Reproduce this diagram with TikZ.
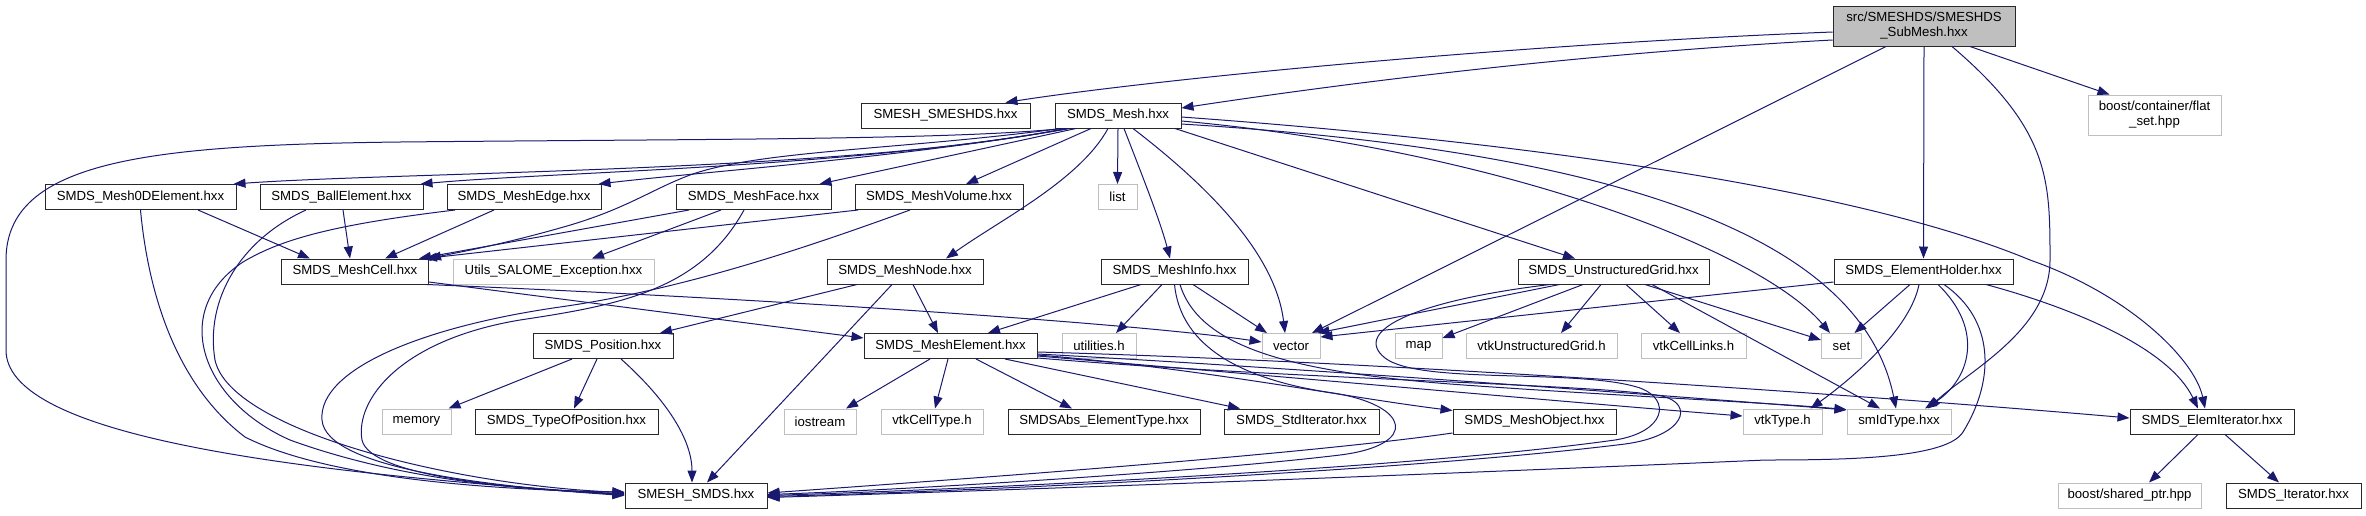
\documentclass[tikz,border=0pt]{standalone}
\usepackage{fontspec}
\setmainfont{Liberation Sans}
\usepackage{tikz}
\usetikzlibrary{arrows.meta}
\definecolor{depblue}{RGB}{25,25,112}
\definecolor{sysgrey}{RGB}{191,191,191}
\definecolor{framegrey}{RGB}{40,40,40}

\begin{document}
\begin{tikzpicture}[
    x=1pt, y=-1pt,
    filebox/.style={rectangle, draw=framegrey, line width=1pt, fill=white, minimum height=25pt, inner sep=0pt, font=\fontsize{13.2}{15}\selectfont},
    sysbox/.style={filebox, draw=sysgrey},
    rootbox/.style={filebox, fill=sysgrey, minimum height=40pt, align=center},
    dep/.style={draw=depblue, line width=1pt, -{Triangle[length=12pt,width=9pt]}}
  ]
  % Canvas
  \fill[white] (0,0) rectangle (2366,515);
  \useasboundingbox (0,0) rectangle (2366,515);

  % Root file
  \node[rootbox, minimum width=182pt] (submesh) at (1924,26) {src/SMESHDS/SMESHDS\\\_SubMesh.hxx};

  % Level 1
  \node[filebox, minimum width=169pt] (smeshds) at (945.5,115.5) {SMESH\_SMESHDS.hxx};
  \node[filebox, minimum width=126pt] (mesh) at (1118,115.5) {SMDS\_Mesh.hxx};
  \node[sysbox, minimum width=133pt, minimum height=40pt, align=center] (flatset) at (2154.5,115) {boost/container/flat\\\_set.hpp};

  % Level 2
  \node[filebox, minimum width=191pt] (zerod) at (140.5,197) {SMDS\_Mesh0DElement.hxx};
  \node[filebox, minimum width=163pt] (ball) at (341.5,197) {SMDS\_BallElement.hxx};
  \node[filebox, minimum width=154pt] (meshedge) at (524,197) {SMDS\_MeshEdge.hxx};
  \node[filebox, minimum width=155pt] (meshface) at (753.5,197) {SMDS\_MeshFace.hxx};
  \node[filebox, minimum width=168pt] (meshvolume) at (939,197) {SMDS\_MeshVolume.hxx};
  \node[sysbox, minimum width=39pt] (stdlist) at (1117.5,197) {list};

  % Level 3
  \node[filebox, minimum width=147pt] (meshcell) at (355,271.5) {SMDS\_MeshCell.hxx};
  \node[sysbox, minimum width=201pt] (salomeexc) at (553.5,271.5) {Utils\_SALOME\_Exception.hxx};
  \node[filebox, minimum width=156pt] (meshnode) at (905,271.5) {SMDS\_MeshNode.hxx};
  \node[filebox, minimum width=147pt] (meshinfo) at (1174.5,271.5) {SMDS\_MeshInfo.hxx};
  \node[filebox, minimum width=191pt] (ugrid) at (1613.5,271.5) {SMDS\_UnstructuredGrid.hxx};
  \node[filebox, minimum width=179pt] (holder) at (1923.5,271.5) {SMDS\_ElementHolder.hxx};

  % Level 4
  \node[filebox, minimum width=140pt] (position) at (603,346) {SMDS\_Position.hxx};
  \node[filebox, minimum width=173pt] (element) at (950.5,346) {SMDS\_MeshElement.hxx};
  \node[sysbox, minimum width=74pt] (utilities) at (1099,346) {utilities.h};
  \node[sysbox, minimum width=58pt] (stdvector) at (1291,346) {vector};
  \node[sysbox, minimum width=47pt] (stdmap) at (1418.5,346) {map};
  \node[sysbox, minimum width=151pt] (vtkugrid) at (1541.5,346) {vtkUnstructuredGrid.h};
  \node[sysbox, minimum width=105pt] (vtklinks) at (1693.5,346) {vtkCellLinks.h};
  \node[sysbox, minimum width=40pt] (stdset) at (1841.5,346) {set};

  % Level 5
  \node[sysbox, minimum width=69pt] (stdmemory) at (416.5,421.5) {memory};
  \node[filebox, minimum width=183pt] (typeofpos) at (566.5,421.5) {SMDS\_TypeOfPosition.hxx};
  \node[sysbox, minimum width=72pt] (stdiostream) at (820,421.5) {iostream};
  \node[sysbox, minimum width=102pt] (vtkcelltype) at (932,421.5) {vtkCellType.h};
  \node[filebox, minimum width=192pt] (abstype) at (1104,421.5) {SMDSAbs\_ElementType.hxx};
  \node[filebox, minimum width=155pt] (stditer) at (1301.5,421.5) {SMDS\_StdIterator.hxx};
  \node[filebox, minimum width=163pt] (meshobject) at (1534.5,421.5) {SMDS\_MeshObject.hxx};
  \node[sysbox, minimum width=79pt] (vtktype) at (1782.5,421.5) {vtkType.h};
  \node[sysbox, minimum width=104pt] (smidtype) at (1899,421.5) {smIdType.hxx};
  \node[filebox, minimum width=164pt] (elemiter) at (2212,421.5) {SMDS\_ElemIterator.hxx};

  % Level 6
  \node[filebox, minimum width=142pt] (smeshsmds) at (696,495.5) {SMESH\_SMDS.hxx};
  \node[sysbox, minimum width=143pt] (sharedptr) at (2129.5,495.5) {boost/shared\_ptr.hpp};
  \node[filebox, minimum width=135pt] (iterator) at (2293.5,495.5) {SMDS\_Iterator.hxx};

  % Includes of the root file
  \draw[dep] ([yshift=-6pt]submesh.west) .. controls (1500,45) and (1150,80) .. ([xshift=60pt]smeshds.north);
  \draw[dep] ([yshift=-14pt]submesh.west) .. controls (1550,55) and (1300,90) .. ([yshift=7.5pt]mesh.east);
  \draw[dep] ([xshift=-38pt]submesh.south) -- ([xshift=21pt]stdvector.north);
  \draw[dep] (submesh.south) -- (holder.north);
  \draw[dep] ([xshift=28pt]submesh.south) .. controls (2050,130) and (2050,180) .. (2050,260) .. controls (2050,330) and (1970,370) .. ([xshift=29pt]smidtype.north);
  \draw[dep] ([xshift=46pt]submesh.south) -- ([xshift=-45pt]flatset.north);

  % Includes of SMDS_Mesh.hxx
  \draw[dep] ([xshift=-55pt]mesh.south) .. controls (950,140) and (700,139) .. (400,142) .. controls (150,145) and (6,160) .. (6,260) -- (6,350) .. controls (6,430) and (250,470) .. ([yshift=1pt]smeshsmds.west);
  \draw[dep] ([xshift=-52pt]mesh.south) .. controls (850,172) and (400,172) .. ([xshift=-3pt]zerod.north east);
  \draw[dep] ([xshift=-50pt]mesh.south) .. controls (850,168) and (550,172) .. ([xshift=-3pt]ball.north east);
  \draw[dep] ([xshift=-48pt]mesh.south) .. controls (900,158) and (700,172) .. ([xshift=-3pt]meshedge.north east);
  \draw[dep] ([xshift=-42pt]mesh.south) -- ([xshift=66pt]meshface.north);
  \draw[dep] ([xshift=-27pt]mesh.south) -- ([xshift=27pt]meshvolume.north);
  \draw[dep] (mesh.south) -- (stdlist.north);
  \draw[dep] ([xshift=-57pt]mesh.south) .. controls (900,150) and (760,150) .. (690,175) .. controls (650,190) and (625,210) .. (560,228) .. controls (500,245) and (460,252) .. (meshcell.north east);
  \draw[dep] ([xshift=-10pt]mesh.south) .. controls (1080,180) and (1000,220) .. ([xshift=41pt]meshnode.north);
  \draw[dep] ([xshift=6pt]mesh.south) .. controls (1140,170) and (1160,220) .. ([xshift=-4.5pt]meshinfo.north);
  \draw[dep] ([xshift=15pt]mesh.south) .. controls (1200,180) and (1275,250) .. ([xshift=-6pt]stdvector.north);
  \draw[dep] ([xshift=57pt]mesh.south) -- ([xshift=-38.5pt]ugrid.north);
  \draw[dep] ([yshift=-5.5pt]mesh.east) .. controls (1500,150) and (1760,250) .. ([xshift=-11.5pt]stdset.north);
  \draw[dep] ([yshift=-8.5pt]mesh.east) .. controls (1600,150) and (1860,230) .. ([xshift=-3pt]smidtype.north);
  \draw[dep] ([yshift=-1.5pt]mesh.east) .. controls (1500,140) and (1850,185) .. (2030,260) .. controls (2130,295) and (2195,360) .. ([xshift=-7pt]elemiter.north);

  % Element headers
  \draw[dep] ([xshift=57.5pt]zerod.south) -- ([xshift=-45pt]meshcell.north);
  \draw[dep] (zerod.south) .. controls (147,280) and (170,380) .. (245,437) .. controls (330,480) and (500,490) .. ([yshift=3.5pt]smeshsmds.west);
  \draw[dep] ([xshift=1.5pt]ball.south) -- ([xshift=-5pt]meshcell.north);
  \draw[dep] ([xshift=-35.5pt]ball.south) .. controls (240,240) and (205,300) .. (215,360) .. controls (230,430) and (450,485) .. ([yshift=3pt]smeshsmds.west);
  \draw[dep] ([xshift=-30pt]meshedge.south) -- ([xshift=30pt]meshcell.north);
  \draw[dep] ([xshift=-69pt]meshedge.south) .. controls (330,225) and (280,240) .. (243,262) .. controls (170,310) and (200,400) .. (290,440) .. controls (400,480) and (520,490) .. ([yshift=2pt]smeshsmds.west);
  \draw[dep] ([xshift=-64.5pt]meshface.south) -- ([xshift=-10pt]meshcell.north east);
  \draw[dep] ([xshift=-32.5pt]meshface.south) -- ([xshift=38.5pt]salomeexc.north);
  \draw[dep] ([xshift=-9.5pt]meshface.south) .. controls (700,290) and (620,305) .. (520,320) .. controls (400,340) and (355,400) .. (362,440) .. controls (370,475) and (500,488) .. ([yshift=1pt]smeshsmds.west);
  \draw[dep] ([xshift=-81pt]meshvolume.south) -- ([xshift=-4pt]meshcell.north east);
  \draw[dep] ([xshift=-29pt]meshvolume.south) .. controls (800,250) and (680,290) .. (560,307) .. controls (420,327) and (318,370) .. (322,420) .. controls (326,470) and (500,487) .. (smeshsmds.west);

  % SMDS_MeshCell.hxx, SMDS_MeshNode.hxx, SMDS_MeshInfo.hxx
  \draw[dep] ([yshift=-10.5pt]meshcell.east) -- ([yshift=8pt]element.west);
  \draw[dep] ([xshift=-2pt]meshcell.south east) .. controls (800,300) and (1150,325) .. ([yshift=4pt]stdvector.west);
  \draw[dep] ([xshift=-48pt]meshnode.south) -- ([xshift=57pt]position.north);
  \draw[dep] ([xshift=8pt]meshnode.south) -- ([xshift=-12.5pt]element.north);
  \draw[dep] ([xshift=-13pt]meshnode.south) -- ([xshift=11pt]smeshsmds.north);
  \draw[dep] ([xshift=-33.5pt]meshinfo.south) -- ([xshift=37.5pt]element.north);
  \draw[dep] ([xshift=-12.5pt]meshinfo.south) -- ([xshift=17pt]utilities.north);
  \draw[dep] ([xshift=18.5pt]meshinfo.south) -- ([xshift=-24pt]stdvector.north);
  \draw[dep] (meshinfo.south) .. controls (1180,340) and (1230,378) .. (1333,393) .. controls (1410,405) and (1420,445) .. (1340,455) .. controls (1200,472) and (900,490) .. ([yshift=1pt]smeshsmds.east);
  \draw[dep] ([xshift=5.5pt]meshinfo.south) .. controls (1200,350) and (1300,372) .. (1450,384) .. controls (1600,395) and (1760,402) .. ([yshift=12pt]smidtype.west);

  % SMDS_MeshElement.hxx
  \draw[dep] ([xshift=-20.5pt]element.south) -- ([xshift=26pt]stdiostream.north);
  \draw[dep] ([xshift=-2.5pt]element.south) -- ([xshift=3pt]vtkcelltype.north);
  \draw[dep] ([xshift=25.5pt]element.south) -- ([xshift=-32pt]abstype.north);
  \draw[dep] ([xshift=54.5pt]element.south) -- ([xshift=-61.5pt]stditer.north);
  \draw[dep] ([yshift=-9pt]element.east) .. controls (1200,368) and (1350,398) .. ([yshift=11pt]meshobject.west);
  \draw[dep] ([yshift=-10pt]element.east) .. controls (1300,378) and (1600,405) .. ([yshift=5.5pt]vtktype.west);
  \draw[dep] ([yshift=-8pt]element.east) .. controls (1300,368) and (1700,398) .. ([yshift=11.5pt]smidtype.west);
  \draw[dep] ([yshift=-6pt]element.east) .. controls (1400,362) and (1900,398) .. ([yshift=3.5pt]elemiter.west);
  \draw[dep] ([yshift=-12pt]element.east) .. controls (1300,380) and (1600,384) .. (1662,396) .. controls (1695,404) and (1685,436) .. (1625,444) .. controls (1400,472) and (950,492) .. ([yshift=-1pt]smeshsmds.east);
  \draw[dep] ([yshift=-11.5pt]meshobject.west) .. controls (1300,455) and (950,480) .. ([yshift=2.5pt]smeshsmds.east);

  % SMDS_Position.hxx
  \draw[dep] ([xshift=-31pt]position.south) -- ([xshift=-3pt]stdmemory.north east);
  \draw[dep] ([xshift=-6pt]position.south) -- ([xshift=7.5pt]typeofpos.north);
  \draw[dep] ([xshift=18pt]position.south) .. controls (667,400) and (692,440) .. ([xshift=-4pt]smeshsmds.north);

  % SMDS_UnstructuredGrid.hxx
  \draw[dep] ([xshift=-54pt]ugrid.south) -- ([xshift=-3pt]stdvector.north east);
  \draw[dep] ([xshift=-30.5pt]ugrid.south) -- ([yshift=8pt]stdmap.east);
  \draw[dep] ([xshift=-12.5pt]ugrid.south) -- ([xshift=19.5pt]vtkugrid.north);
  \draw[dep] ([xshift=12.5pt]ugrid.south) -- ([xshift=-13.5pt]vtklinks.north);
  \draw[dep] ([xshift=31.5pt]ugrid.south) -- ([yshift=6pt]stdset.west);
  \draw[dep] ([xshift=38.5pt]ugrid.south) -- ([xshift=-19pt]smidtype.north);
  \draw[dep] ([xshift=-63.5pt]ugrid.south) .. controls (1420,300) and (1350,330) .. (1385,358) .. controls (1420,385) and (1580,368) .. (1640,388) .. controls (1672,400) and (1665,432) .. (1615,440) .. controls (1400,470) and (950,490) .. (smeshsmds.east);

  % SMDS_ElementHolder.hxx
  \draw[dep] ([yshift=-10.5pt]holder.west) -- ([yshift=9pt]stdvector.east);
  \draw[dep] ([xshift=-13.5pt]holder.south) -- ([xshift=13pt]stdset.north);
  \draw[dep] ([xshift=-4.5pt]holder.south) .. controls (1910,330) and (1850,380) .. ([xshift=28pt]vtktype.north);
  \draw[dep] ([xshift=14.5pt]holder.south) .. controls (1985,330) and (1970,380) .. ([xshift=26pt]smidtype.north);
  \draw[dep] ([xshift=20.5pt]holder.south) .. controls (1995,320) and (1995,380) .. (1963,432) .. controls (1947,458) and (1850,460) .. (1766,460) .. controls (1300,480) and (950,492) .. ([yshift=-2pt]smeshsmds.east);
  \draw[dep] ([xshift=62.5pt]holder.south) .. controls (2080,310) and (2170,350) .. ([xshift=-14pt]elemiter.north);

  % SMDS_ElemIterator.hxx
  \draw[dep] ([xshift=-14pt]elemiter.south) -- ([xshift=19.5pt]sharedptr.north);
  \draw[dep] ([xshift=13pt]elemiter.south) -- ([xshift=-14.5pt]iterator.north);
\end{tikzpicture}
\end{document}
